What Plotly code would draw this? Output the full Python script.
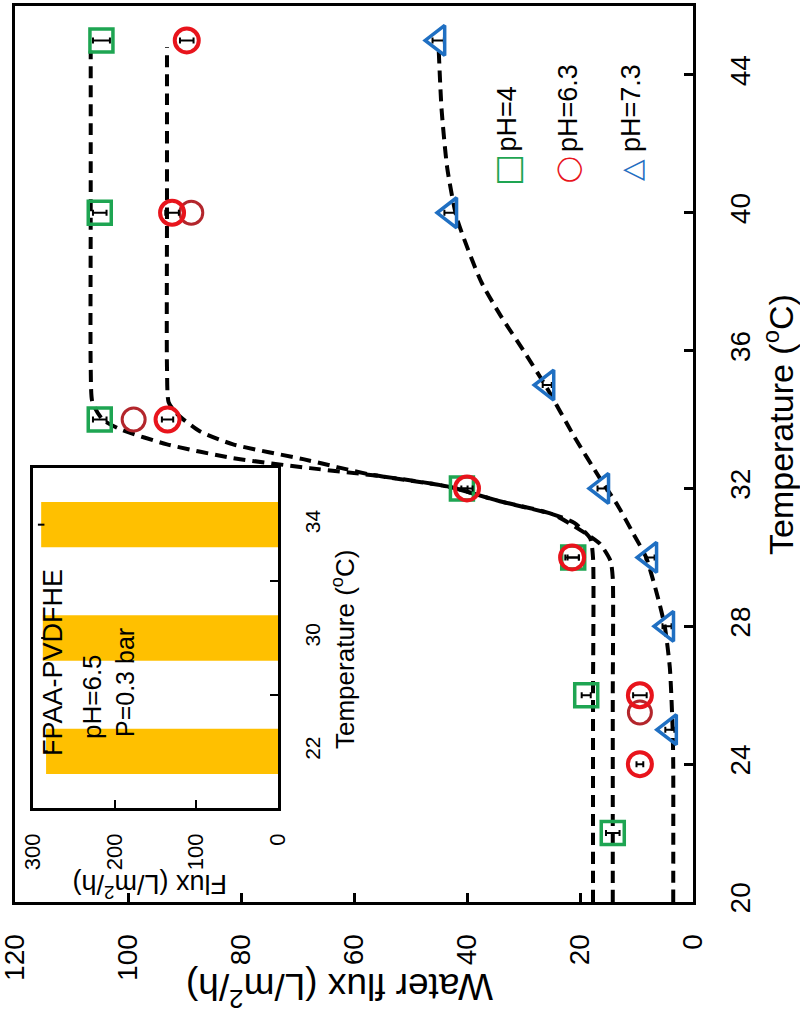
import plotly.graph_objects as go

# main plot data (temperature in degC, water flux in L/m2/h)
temp_ph4 = [22, 26, 30, 32, 34, 40, 45]
flux_ph4 = [14.2, 18.9, 21.2, 40.9, 105, 105, 104.7]
err_ph4 = [1.2, 0.8, 1.0, 1.0, 1.2, 1.2, 1.5]

temp_ph63 = [24, 26, 30, 32, 34, 40, 45]
flux_ph63 = [9.4, 9.4, 21.4, 40, 93, 92.2, 89.6]
err_ph63 = [0.6, 1.2, 1.2, 1.0, 1.0, 1.2, 1.2]

# second run at pH 6.3 (dashed circles)
temp_ph63b = [25.5, 34, 40]
flux_ph63b = [9.4, 99, 88.8]

temp_ph73 = [25, 28, 30, 32, 35, 40, 45]
flux_ph73 = [4.1, 4.6, 7.6, 16.1, 25.8, 43, 45.1]
err_ph73 = [0.8, 0.8, 0.8, 0.8, 0.8, 1.0, 1.0]

# fitted curves
fit_t_ph4 = [20, 26, 30, 30.55, 31.0, 31.25, 31.63, 32.06, 32.35, 32.59, 32.88, 33.28, 33.72, 34.0, 34.5, 35.5, 40, 44.7]
fit_f_ph4 = [17.7, 17.7, 17.7, 18.2, 21.0, 24.8, 34.2, 43.5, 55, 67.8, 81.4, 93.1, 101.4, 104.5, 106.3, 106.6, 106.6, 106.6]

fit_t_ph63 = [20, 26, 29.4, 29.9, 30.4, 30.8, 31.25, 31.63, 32.06, 32.4, 32.85, 33.28, 33.66, 34.16, 34.5, 35.5, 40, 44.8]
fit_f_ph63 = [14.2, 14.2, 14.2, 14.6, 16.5, 20.0, 24.8, 34.2, 43.5, 57, 69, 81.4, 87.3, 91.3, 92.8, 93.1, 93.1, 93.1]

fit_t_ph73 = [20, 24, 25, 26.8, 28, 28.7, 30, 30.7, 31.5, 32.3, 33.5, 34.9, 36, 37, 38, 39.85, 41.3, 43, 44.7]
fit_f_ph73 = [3.5, 3.5, 3.6, 4.1, 5.0, 6.0, 8.3, 10.6, 13.3, 16.5, 21, 25.8, 30, 34, 37.5, 41.8, 43.5, 44.5, 45]

# inset bars
inset_temp = ["22", "30", "34"]
inset_flux = [284, 288, 290]
inset_err = [2, 2, 4]

flux_ticks = [0, 20, 40, 60, 80, 100, 120]
temp_ticks = [20, 24, 28, 32, 36, 40, 44]
inset_flux_ticks = [0, 100, 200, 300]

GREEN = "#1ea552"
RED = "#e8141c"
DARKRED = "#b3262c"
BLUE = "#1f6fc2"
FONT = "Arial, Liberation Sans, sans-serif"

W, H = 800, 1015
ML, MT = 15, 6
PW, PH = 678, 896
MR, MB = W - ML - PW, H - MT - PH


def px(x):
    return (x - ML) / PW


def py(y):
    return (H - MB - y) / PH


fig = go.Figure()

dash = "12px,7px"
for t, f in [(fit_t_ph4, fit_f_ph4), (fit_t_ph63, fit_f_ph63), (fit_t_ph73, fit_f_ph73)]:
    fig.add_trace(go.Scatter(x=f, y=t, mode="lines",
                             line=dict(color="black", width=4, dash=dash, shape="spline", smoothing=0.6)))

errbar = dict(type="data", color="black", thickness=2, width=3)
fig.add_trace(go.Scatter(x=flux_ph4, y=temp_ph4, mode="markers",
                         error_x=dict(errbar, array=err_ph4),
                         marker=dict(symbol="square-open", size=23, color=GREEN, line=dict(width=3.5))))
fig.add_trace(go.Scatter(x=flux_ph63b, y=temp_ph63b, mode="markers",
                         marker=dict(symbol="circle-open", size=23, color=DARKRED, line=dict(width=3))))
fig.add_trace(go.Scatter(x=flux_ph63, y=temp_ph63, mode="markers",
                         error_x=dict(errbar, array=err_ph63),
                         marker=dict(symbol="circle-open", size=24, color=RED, line=dict(width=4))))
fig.add_trace(go.Scatter(x=flux_ph73, y=temp_ph73, mode="markers",
                         error_x=dict(errbar, array=err_ph73),
                         marker=dict(symbol="triangle-left-open", size=26, color=BLUE, line=dict(width=3.5))))

# inset bar chart
fig.add_trace(go.Bar(x=inset_flux, y=inset_temp, orientation="h", xaxis="x2", yaxis="y2",
                     width=0.4, marker=dict(color="#ffc000", line=dict(width=0)),
                     error_x=dict(type="data", array=inset_err, color="black", thickness=2, width=0)))

axis_common = dict(showgrid=False, zeroline=False, showline=True, linecolor="black",
                   mirror=True, ticks="inside", tickcolor="black", tickangle=-90,
                   automargin=False, ticklabeloverflow="allow")

fig.update_layout(
    width=W, height=H,
    margin=dict(l=ML, r=MR, t=MT, b=MB),
    paper_bgcolor="white", plot_bgcolor="white",
    showlegend=False,
    font=dict(family=FONT, color="black"),
    xaxis=dict(axis_common, range=[120, 0], tickmode="array", tickvals=flux_ticks,
               linewidth=3, ticklen=9, tickwidth=2.5, ticklabelstandoff=18,
               tickfont=dict(size=28, family=FONT)),
    yaxis=dict(axis_common, side="right", range=[20, 46], tickmode="array", tickvals=temp_ticks,
               linewidth=3, ticklen=9, tickwidth=2.5, ticklabelstandoff=20,
               tickfont=dict(size=28, family=FONT)),
    xaxis2=dict(axis_common, domain=[px(33), px(278)], anchor="y2", range=[300, 0],
                tickmode="array", tickvals=inset_flux_ticks, linewidth=2.5, ticklen=8, tickwidth=2,
                ticklabelstandoff=14, tickfont=dict(size=22, family=FONT)),
    yaxis2=dict(axis_common, domain=[py(808), py(468)], anchor="x2", side="right",
                type="category", categoryorder="array", categoryarray=inset_temp,
                range=[-0.5, 2.5], tickson="boundaries", linewidth=2.5, ticklen=8, tickwidth=2,
                ticklabelstandoff=14, tickfont=dict(size=21, family=FONT)),
)


def note(text, x, y, size, angle, color="black", family=FONT, xanchor="center", yanchor="middle"):
    fig.add_annotation(text=text, x=px(x), y=py(y), xref="paper", yref="paper",
                       showarrow=False, textangle=angle, xanchor=xanchor, yanchor=yanchor,
                       font=dict(size=size, family=family, color=color))


# axis titles
note("Temperature (<sup>o</sup>C)", 778, 425, 34, -90)
note("Water flux (L/m<sup>2</sup>/h)", 340, 990, 37, 180)

# inset labels
note("Temperature (<sup>o</sup>C)", 343, 650, 26, -90)
note("Flux (L/m<sup>2</sup>/h)", 150, 886, 27, 180)
note("FPAA-PVDFHE", 53, 663, 27, -90)
note("pH=6.5", 92, 697, 26, -90)
note("P=0.3 bar", 125, 683, 25, -90)

# legend
for sym, col, size, label, x in [("□", GREEN, 34, "pH=4", 507), ("◯", RED, 24, "pH=6.3", 568),
                                 ("△", BLUE, 28, "pH=7.3", 631)]:
    note("<b>%s</b>" % sym, x, 170, size, -90, color=col, family="DejaVu Sans")
    note(label, x, 154, 27, -90, yanchor="bottom")

# drop the default body margin so the figure sits at the page corner
fig.write_html("out.html", config={"displayModeBar": False},
               post_script="document.body.style.margin = '0';")
